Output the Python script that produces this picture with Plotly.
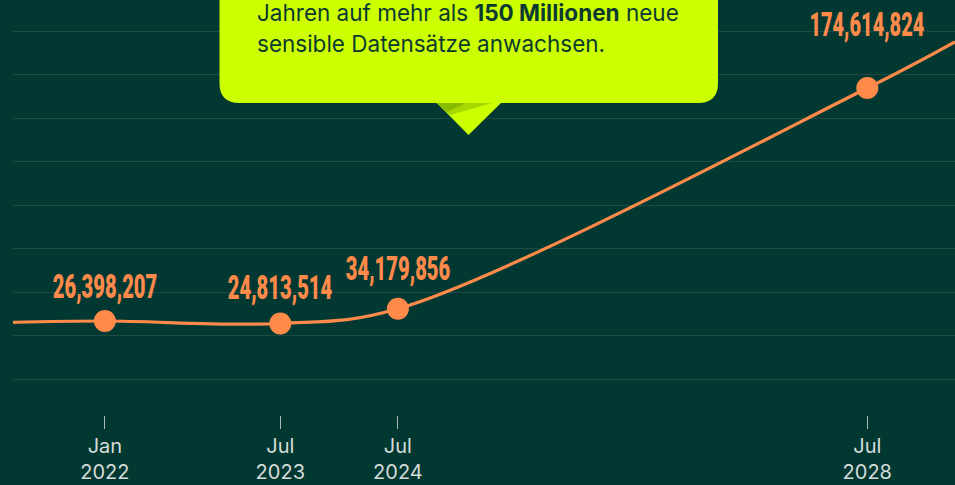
import json
import plotly.graph_objects as go

# ---- data ----
point_dates = ["2022-01-01", "2023-07-01", "2024-07-01", "2028-07-01"]
point_values = [26398207, 24813514, 34179856, 174614824]
point_labels = ["26,398,207", "24,813,514", "34,179,856", "174,614,824"]

# line runs beyond the labelled points to the plot edges
line_dates = ["2021-03-21", "2022-01-01", "2023-07-01", "2024-07-01", "2028-07-01", "2029-03-31"]
line_values = [25500000, 26398207, 24813514, 34179856, 174614824, 204000000]

tick_dates = ["2022-01-01", "2023-07-01", "2024-07-01", "2028-07-01"]
tick_labels = ["Jan<br>2022", "Jul<br>2023", "Jul<br>2024", "Jul<br>2028"]

callout_line1 = "Jahren auf mehr als <b>150 Millionen</b> neue"
callout_line2 = "sensible Datensätze anwachsen."

# ---- style ----
BG = "#013832"
GRID = "#1e4c44"
ORANGE = "#ff8a4a"
LIME = "#ccff00"
DARK = "#0c3a30"
TICK = "#d5dcd9"
LABEL_FONT = "Roboto, DejaVu Sans, sans-serif"
LABEL_WIDTH_PER_CHAR = 10.45  # condensed display face: squeeze labels to this width

W, H = 955, 485
ML, MR, MT, MB = 13, 0, 0, 70
PW, PH = W - ML - MR, H - MT - MB

# y scale (value in millions -> pixel)
zero_px = 362.5
px_per_m = 1.572
y_lo = (zero_px - PH) / px_per_m * 1e6
y_hi = zero_px / px_per_m * 1e6
grid_tick0 = (zero_px - 379) / px_per_m * 1e6
grid_dtick = 43.5 / px_per_m * 1e6


def px(x, y):
    """pixel -> paper coords"""
    return (x - ML) / PW, (MT + PH - y) / PH


fig = go.Figure()
fig.add_trace(go.Scatter(
    x=line_dates, y=line_values, mode="lines",
    line=dict(color=ORANGE, width=3.2, shape="spline", smoothing=1.0),
    hoverinfo="skip", showlegend=False,
))
fig.add_trace(go.Scatter(
    x=point_dates, y=point_values, mode="markers",
    marker=dict(color=ORANGE, size=22, line=dict(width=0)),
    showlegend=False,
))

label_shift = [35, 36, 41, 64]
for d, v, t, s in zip(point_dates, point_values, point_labels, label_shift):
    fig.add_annotation(
        x=d, y=v, text=t, showarrow=False, yshift=s,
        font=dict(family=LABEL_FONT, size=34, color=ORANGE, weight=900),
        xanchor="center", yanchor="middle",
    )

# ---- callout box ----
bx0, bx1, by_top, by_bot, r = 219.5, 718, -40, 103, 20
p = lambda x, y: "%f,%f" % px(x, y)
box_path = (
    f"M {p(bx0, by_top)} L {p(bx0, by_bot - r)} Q {p(bx0, by_bot)} {p(bx0 + r, by_bot)} "
    f"L {p(bx1 - r, by_bot)} Q {p(bx1, by_bot)} {p(bx1, by_bot - r)} L {p(bx1, by_top)} Z"
)
fig.add_shape(type="path", xref="paper", yref="paper", path=box_path,
              fillcolor=LIME, line=dict(width=0), layer="above")
tri = f"M {p(436.5, 102.5)} L {p(501.5, 102.5)} L {p(468.5, 135)} Z"
fig.add_shape(type="path", xref="paper", yref="paper", path=tri,
              fillcolor=LIME, line=dict(width=0), layer="above")
fold = f"M {p(436.5, 103)} L {p(492, 103)} L {p(450, 115)} Z"
fig.add_shape(type="path", xref="paper", yref="paper", path=fold,
              fillcolor="#a6d800", line=dict(width=0), layer="above")
fold2 = f"M {p(436.5, 103)} L {p(466, 103)} L {p(447, 112)} Z"
fig.add_shape(type="path", xref="paper", yref="paper", path=fold2,
              fillcolor="#86bb00", line=dict(width=0), layer="above")

for txt, cy in [(callout_line1, 12), (callout_line2, 43.5)]:
    ax, ay = px(255, cy)
    fig.add_annotation(
        x=ax, y=ay, xref="paper", yref="paper", text=txt, showarrow=False,
        xanchor="left", yanchor="middle", align="left",
        font=dict(family="Inter, sans-serif", size=22.5, color=DARK),
    )

fig.update_layout(
    width=W, height=H,
    margin=dict(l=ML, r=MR, t=MT, b=MB),
    paper_bgcolor=BG, plot_bgcolor=BG,
    showlegend=False,
    xaxis=dict(
        type="date", range=[line_dates[0], line_dates[-1]],
        showgrid=False, zeroline=False, showline=False,
        tickmode="array", tickvals=tick_dates, ticktext=tick_labels,
        ticks="outside", ticklen=13, tickwidth=1, tickcolor="#aebbb6",
        tickfont=dict(family="Inter, sans-serif", size=20, color=TICK),
        fixedrange=True,
    ),
    yaxis=dict(
        range=[y_lo, y_hi], showticklabels=False, ticks="",
        showgrid=True, gridcolor=GRID, gridwidth=1,
        tick0=grid_tick0, dtick=grid_dtick,
        zeroline=False, showline=False, fixedrange=True,
    ),
)

label_widths = {t: round(len(t) * LABEL_WIDTH_PER_CHAR, 1) for t in point_labels}
post = """
document.body.style.margin='0px';
document.body.style.overflow='hidden';
var W = %s;
var gd = document.getElementById('{plot_id}');
gd.querySelectorAll('text.annotation-text').forEach(function(t){
  var w = W[t.textContent];
  if (w) { t.setAttribute('textLength', w); t.setAttribute('lengthAdjust', 'spacingAndGlyphs'); }
});
""" % json.dumps(label_widths)

fig.write_html("out.html", config={"displayModeBar": False}, post_script=post)
